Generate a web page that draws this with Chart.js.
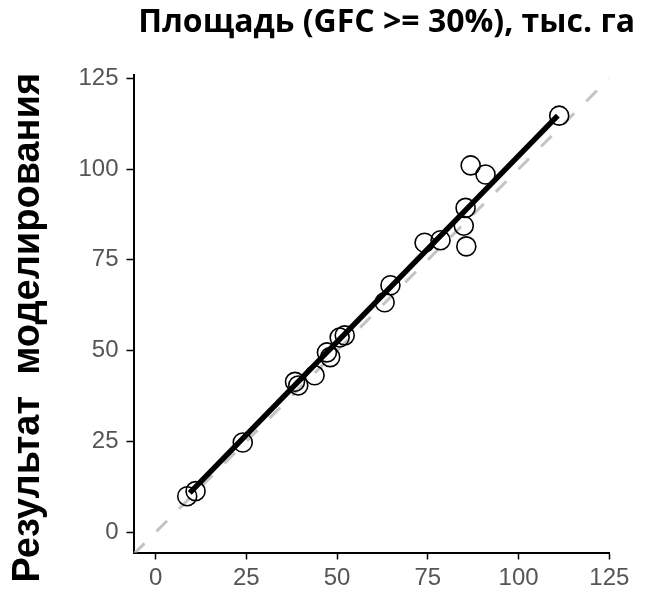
<!DOCTYPE html>
<html>
<head>
<meta charset="utf-8">
<script src="https://cdn.jsdelivr.net/npm/chart.js@4.4.1/dist/chart.umd.min.js"></script>
<style>
  html, body { margin: 0; padding: 0; background: #fff; }
  #wrap { width: 671px; height: 595px; }
</style>
</head>
<body>
<div id="wrap"><canvas id="scatter_chart"></canvas></div>
<script>
// observed vs modelled area, thousand ha
var observedX = [8.7, 11.0, 24.0, 38.4, 39.3, 43.8, 47.2, 48.1, 50.7, 52.1, 63.1, 64.7, 74.1, 78.5, 85.6, 84.9, 85.4, 86.8, 90.9, 111.2];
var modelledY = [9.9, 11.3, 24.7, 41.4, 40.4, 43.2, 49.5, 48.2, 53.6, 54.2, 63.3, 68.0, 79.7, 80.4, 78.7, 84.4, 89.3, 101.0, 98.5, 114.7];
// fitted regression line ends
var fitX = [9.4, 110.8];
var fitY = [10.8, 114.7];
// 1:1 reference line
var oneToOne = [-6, 125];
var tickValues = [0, 25, 50, 75, 100, 125];

var chartTitle = 'Площадь (GFC >= 30%), тыс. га';
var yTitle = 'Результат  моделирования';

var points = observedX.map(function (x, i) { return { x: x, y: modelledY[i] }; });
var fitLine = fitX.map(function (x, i) { return { x: x, y: fitY[i] }; });
var diagLine = oneToOne.map(function (v) { return { x: v, y: v }; });

var tickFont = { family: '"Liberation Sans", Arial, sans-serif', size: 24 };

function axisCommon() {
    return {
        type: 'linear',
        afterBuildTicks: function (scale) {
            scale.ticks = tickValues.map(function (v) { return { value: v }; });
        },
        ticks: { font: tickFont, color: '#555', padding: 4 },
        grid: {
            drawOnChartArea: false,
            drawTicks: true,
            tickLength: 7,
            tickColor: '#000',
            tickWidth: 1.5
        },
        border: { display: true, color: '#000', width: 2 }
    };
}

var xAxis = axisCommon();
xAxis.min = -6.1;
xAxis.max = 125;
xAxis.afterFit = function (scale) { scale.height = 42.5; };

var yAxis = axisCommon();
yAxis.min = -5.6;
yAxis.max = 125.9;
yAxis.ticks.padding = 8;
yAxis.afterFit = function (scale) { scale.width = 133.5; };

// y title sits a little lower than the plot centre, so draw it by hand
var yTitlePlugin = {
    id: 'yTitle',
    afterDraw: function (chart) {
        var c = chart.ctx;
        var area = chart.chartArea;
        c.save();
        c.translate(29, (area.top + area.bottom) / 2 + 14);
        c.rotate(-Math.PI / 2);
        c.font = 'bold 38px "Liberation Sans", Arial, sans-serif';
        c.textAlign = 'center';
        c.textBaseline = 'middle';
        c.fillStyle = '#000';
        c.fillText(yTitle, 0, 0);
        c.restore();
    }
};

var ctx = document.getElementById('scatter_chart').getContext('2d');
var myChart = new Chart(ctx, {
    type: 'scatter',
    data: {
        datasets: [{
            type: 'line',
            label: 'Fit',
            data: fitLine,
            borderColor: '#000',
            borderWidth: 5.5,
            pointRadius: 0,
            fill: false,
            order: 0
        }, {
            label: 'Points',
            data: points,
            pointRadius: 9.5,
            pointBorderWidth: 1.6,
            borderColor: '#000',
            backgroundColor: 'rgba(0,0,0,0)',
            order: 1
        }, {
            type: 'line',
            label: '1:1',
            data: diagLine,
            borderColor: '#c4c4c4',
            borderWidth: 3,
            borderDash: [15, 17],
            pointRadius: 0,
            fill: false,
            order: 2
        }]
    },
    options: {
        responsive: true,
        maintainAspectRatio: false,
        animation: false,
        layout: { padding: { left: 0, right: 36, top: 0, bottom: 0 } },
        scales: {
            x: xAxis,
            y: yAxis,
            // empty right-hand spacer so the plot stops short of the title's end
            pad: {
                type: 'linear',
                position: 'right',
                display: true,
                ticks: { display: false },
                grid: { display: false, drawTicks: false },
                border: { display: false },
                afterFit: function (scale) { scale.width = 25.7; }
            }
        },
        plugins: {
            legend: { display: false },
            tooltip: { enabled: false },
            title: {
                display: true,
                text: chartTitle,
                align: 'end',
                color: '#000',
                font: { family: 'Open Sans', size: 32, weight: 'bold' },
                padding: { top: 4, bottom: 32.6 }
            }
        }
    },
    plugins: [yTitlePlugin]
});
</script>
</body>
</html>
